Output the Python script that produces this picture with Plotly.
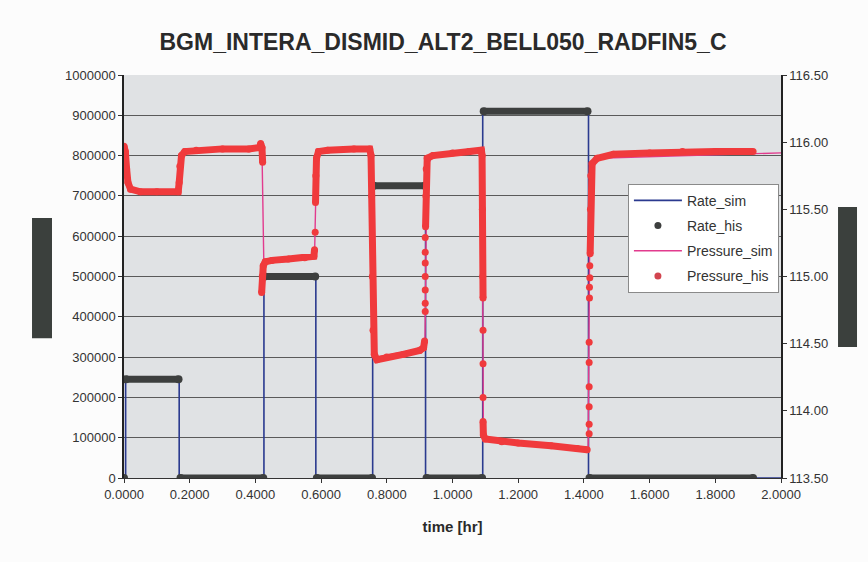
import plotly.graph_objects as go

# ---------------- data ----------------
title_text = "BGM_INTERA_DISMID_ALT2_BELL050_RADFIN5_C"

# Rate_sim : step line (value holds until next time)
rate_sim_t = [0.0, 0.005, 0.168, 0.426, 0.584, 0.757, 0.918, 1.092, 1.414, 2.0]
rate_sim_q = [0, 245000, 0, 500000, 0, 725000, 0, 910000, 0, 0]

# Rate_his : dense measured points, runs separated by None
rate_his_t = [0.0, None, 0.006, 0.166, None, 0.172, 0.424, None, 0.428, 0.582, None,
              0.587, 0.755, None, 0.760, 0.916, None, 0.921, 1.090, None, 1.095, 1.411,
              None, 1.417, 1.915]
rate_his_q = [0, None, 245000, 245000, None, 0, 0, None, 500000, 500000, None,
              0, 0, None, 725000, 725000, None, 0, 0, None, 910000, 910000,
              None, 0, 0]

# Pressure_sim
pres_sim_t = [0.0, 0.008, 0.02, 0.165, 0.172, 0.19, 0.42, 0.426, 0.43, 0.58, 0.586, 0.6,
              0.752, 0.758, 0.77, 0.916, 0.922, 0.94, 1.09, 1.094, 1.1, 1.413, 1.419,
              1.44, 2.0]
pres_sim_p = [115.96, 115.80, 115.64, 115.63, 115.85, 115.93, 115.95, 115.05, 115.10,
              115.15, 115.85, 115.93, 115.95, 114.60, 114.40, 114.47, 115.82, 115.90,
              115.94, 113.85, 113.79, 113.71, 115.75, 115.88, 115.92]

# Pressure_his : dense runs and isolated points, separated by None
pres_his_t = [0.0, 0.004, 0.008, 0.012, 0.02, 0.05, 0.1, 0.165, 0.168, 0.170, 0.175,
              0.185, 0.22, 0.3, 0.38, 0.412, 0.416, 0.420, 0.422, None,
              0.419, 0.421, 0.424, 0.43, 0.45, 0.5, 0.55, 0.578, 0.580, None,
              0.582, None,
              0.583, 0.584, 0.586, 0.592, 0.62, 0.7, 0.748, 0.752, 0.754, 0.756, 0.758,
              0.762, 0.770, 0.8, 0.85, 0.9, 0.912, 0.915, None,
              0.917, None, 0.917, None, 0.917, None, 0.917, None, 0.917, None, 0.917,
              None, 0.917, None,
              0.918, 0.919, 0.920, 0.923, 0.94, 1.0, 1.05, 1.088, 1.090, 1.091, 1.092,
              1.093, None,
              1.093, None, 1.093, None, 1.093, None,
              1.093, 1.094, 1.100, 1.15, 1.2, 1.3, 1.38, 1.41, None,
              1.416, None, 1.416, None, 1.416, None, 1.416, None, 1.416, None, 1.416,
              None, 1.417, None, 1.417, None, 1.418, None, 1.418, None,
              1.419, 1.420, 1.421, 1.425, 1.44, 1.49, 1.6, 1.7, 1.8, 1.915]
pres_his_p = [115.97, 115.93, 115.80, 115.70, 115.65, 115.63, 115.63, 115.63, 115.70,
              115.82, 115.90, 115.93, 115.94, 115.95, 115.95, 115.96, 115.99, 115.96,
              115.85, None,
              114.88, 115.00, 115.08, 115.11, 115.12, 115.13, 115.14, 115.15, 115.20, None,
              115.33, None,
              115.55, 115.75, 115.88, 115.93, 115.94, 115.95, 115.95, 115.90, 115.60,
              115.00, 114.60, 114.42, 114.38, 114.40, 114.42, 114.45, 114.47, 114.52, None,
              114.74, None, 114.80, None, 114.90, None, 115.00, None, 115.10, None,
              115.18, None, 115.29, None,
              115.37, 115.60, 115.80, 115.88, 115.90, 115.92, 115.93, 115.94, 115.90,
              115.50, 115.00, 114.84, None,
              114.60, None, 114.35, None, 114.10, None,
              113.92, 113.82, 113.79, 113.77, 113.76, 113.74, 113.72, 113.71, None,
              113.83, None, 113.90, None, 114.03, None, 114.18, None, 114.36, None,
              114.51, None, 114.84, None, 114.92, None, 114.99, None, 115.08, None,
              115.17, 115.50, 115.75, 115.84, 115.88, 115.91, 115.92, 115.93, 115.93,
              115.93]

x_range = [0, 2]
rate_range = [0, 1000000]
pres_range = [113.5, 116.5]

# ---------------- styles ----------------
FONT = "Liberation Sans, Arial, sans-serif"
C_RATE_SIM = "#2b3a8f"
C_RATE_HIS = "#3d3f3e"
C_PRES_SIM = "#e23b8e"
C_PRES_HIS = "#f03a3c"

fig = go.Figure()

fig.add_trace(go.Scatter(x=rate_sim_t, y=rate_sim_q, mode="lines", line_shape="hv",
                         line=dict(color=C_RATE_SIM, width=1.6), name="Rate_sim",
                         legendgroup="g1", legendrank=1))
fig.add_trace(go.Scatter(x=rate_his_t, y=rate_his_q, mode="lines+markers",
                         line=dict(color=C_RATE_HIS, width=7),
                         marker=dict(color=C_RATE_HIS, size=8), connectgaps=False,
                         showlegend=False))
fig.add_trace(go.Scatter(x=[None], y=[None], mode="markers", name="Rate_his",
                         marker=dict(color=C_RATE_HIS, size=7), legendgroup="g2",
                         legendrank=2))

fig.add_trace(go.Scatter(x=pres_sim_t, y=pres_sim_p, mode="lines", yaxis="y2",
                         line=dict(color=C_PRES_SIM, width=1.4), name="Pressure_sim",
                         legendgroup="g3", legendrank=3))
fig.add_trace(go.Scatter(x=pres_his_t, y=pres_his_p, mode="lines+markers", yaxis="y2",
                         line=dict(color=C_PRES_HIS, width=7),
                         marker=dict(color=C_PRES_HIS, size=7), connectgaps=False,
                         showlegend=False))
fig.add_trace(go.Scatter(x=[None], y=[None], mode="markers", name="Pressure_his",
                         yaxis="y2", legendgroup="g4",
                         marker=dict(color="#d2454f", size=7), legendrank=4))

axis_font = dict(family=FONT, size=13, color="#333333")

fig.update_layout(
    width=868, height=562,
    margin=dict(l=124, r=87, t=75, b=84),
    paper_bgcolor="#fcfcfc",
    plot_bgcolor="#e0e2e4",
    font=dict(family=FONT, color="#333333"),
    title=dict(text="<b>" + title_text + "</b>", x=443 / 868, xanchor="center",
               y=1 - 42 / 562, yanchor="middle",
               font=dict(family=FONT, size=23, color="#2a2a2a")),
    showlegend=True,
    legend=dict(x=0.767, y=0.730, xanchor="left", yanchor="top",
                bgcolor="#ffffff", bordercolor="#8a8a8a", borderwidth=1,
                font=dict(family=FONT, size=14, color="#333333"),
                itemwidth=48, tracegroupgap=4),
    xaxis=dict(range=x_range, tick0=0, dtick=0.2, tickformat=".4f",
               showgrid=False, zeroline=False, showline=True, linecolor="#333",
               linewidth=1, ticks="outside", ticklen=4, tickcolor="#333",
               tickfont=axis_font,
               title=dict(text="<b>time [hr]</b>", standoff=20,
                          font=dict(family=FONT, size=15, color="#2a2a2a"))),
    yaxis=dict(range=rate_range, dtick=100000, tickformat="d",
               showgrid=True, gridcolor="#5a5a5a", gridwidth=1, zeroline=False,
               showline=True, linecolor="#222", linewidth=1.5,
               ticks="outside", ticklen=4, tickcolor="#333", tickfont=axis_font),
    yaxis2=dict(range=pres_range, dtick=0.5, tickformat=".2f", overlaying="y",
                side="right", showgrid=False, zeroline=False, showline=True,
                linecolor="#222", linewidth=1.5, ticks="outside", ticklen=4,
                tickcolor="#333", tickfont=axis_font),
    shapes=[
        dict(type="rect", xref="paper", yref="paper", x0=-0.140, x1=-0.1096,
             y0=0.347, y1=0.645, fillcolor="#3b403d", line=dict(width=0)),
        dict(type="rect", xref="paper", yref="paper", x0=1.0868, x1=1.1157,
             y0=0.325, y1=0.6725, fillcolor="#3b403d", line=dict(width=0)),
    ],
)

fig.write_html("out.html")
